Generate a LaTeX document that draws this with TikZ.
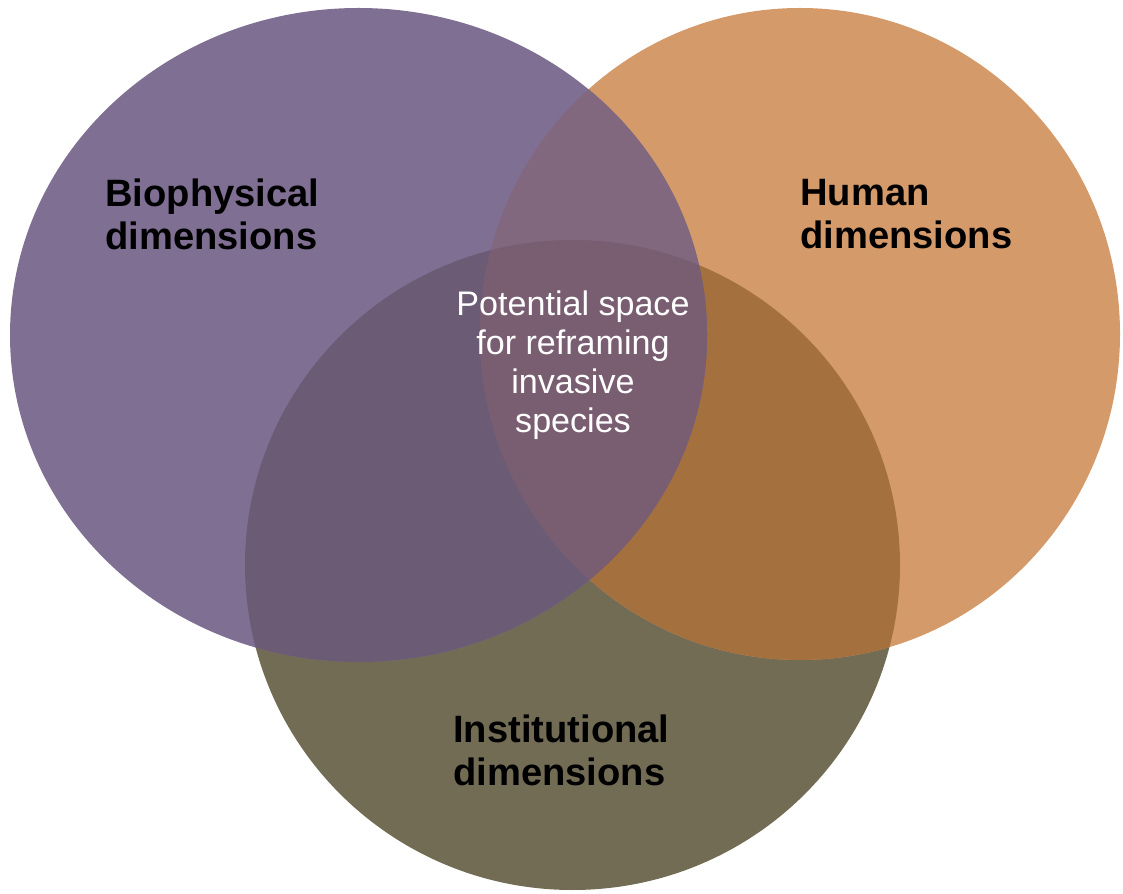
\documentclass[tikz,border=0pt]{standalone}
\usepackage{fontspec}
\setmainfont{Liberation Sans}

\definecolor{BioColor}{RGB}{127,111,147}
\definecolor{HumanColor}{RGB}{212,154,106}
\definecolor{InstColor}{RGB}{115,108,85}
\definecolor{BioHumanColor}{RGB}{129,104,127}
\definecolor{BioInstColor}{RGB}{107,91,117}
\definecolor{HumanInstColor}{RGB}{164,112,62}
\definecolor{CoreColor}{RGB}{121,93,113}

% the three sets
\newcommand{\bioset}{(7.17,-6.70) ellipse [x radius=6.97, y radius=6.54]}
\newcommand{\humanset}{(16.00,-6.68) ellipse [x radius=6.40, y radius=6.52]}
\newcommand{\instset}{(11.45,-11.30) ellipse [x radius=6.55, y radius=6.50]}

\tikzstyle{dim-label}=[text=black,
                       align=left,
                       inner sep=0pt,
                       font=\bfseries\fontsize{21.7}{24.5}\selectfont]
\tikzstyle{core-label}=[text=white,
                        align=center,
                        inner sep=0pt,
                        font=\fontsize{19.4}{22.3}\selectfont]

\begin{document}
\begin{tikzpicture}
    \useasboundingbox (0,0) rectangle (22.46,-17.88);

    % Sets
    % --------------------------------------------------------------------------
    \fill[InstColor]  \instset;
    \fill[HumanColor] \humanset;
    \fill[BioColor]   \bioset;

    % Overlaps
    % --------------------------------------------------------------------------
    \begin{scope}
        \clip \humanset;
        \fill[HumanInstColor] \instset;
    \end{scope}
    \begin{scope}
        \clip \bioset;
        \fill[BioInstColor] \instset;
        \fill[BioHumanColor] \humanset;
        \clip \humanset;
        \fill[CoreColor] \instset;
    \end{scope}

    % Labels
    % --------------------------------------------------------------------------
    \node at (2.10, -4.28) (bio_text)   [dim-label, anchor=west] {Biophysical\\dimensions};
    \node at (16.00,-4.28) (human_text) [dim-label, anchor=west] {Human\\dimensions};
    \node at (9.06, -15.00) (inst_text) [dim-label, anchor=west] {Institutional\\dimensions};

    \node at (11.46, -7.30) (core_text) [core-label] {Potential space\\for reframing\\invasive\\species};
\end{tikzpicture}
\end{document}
